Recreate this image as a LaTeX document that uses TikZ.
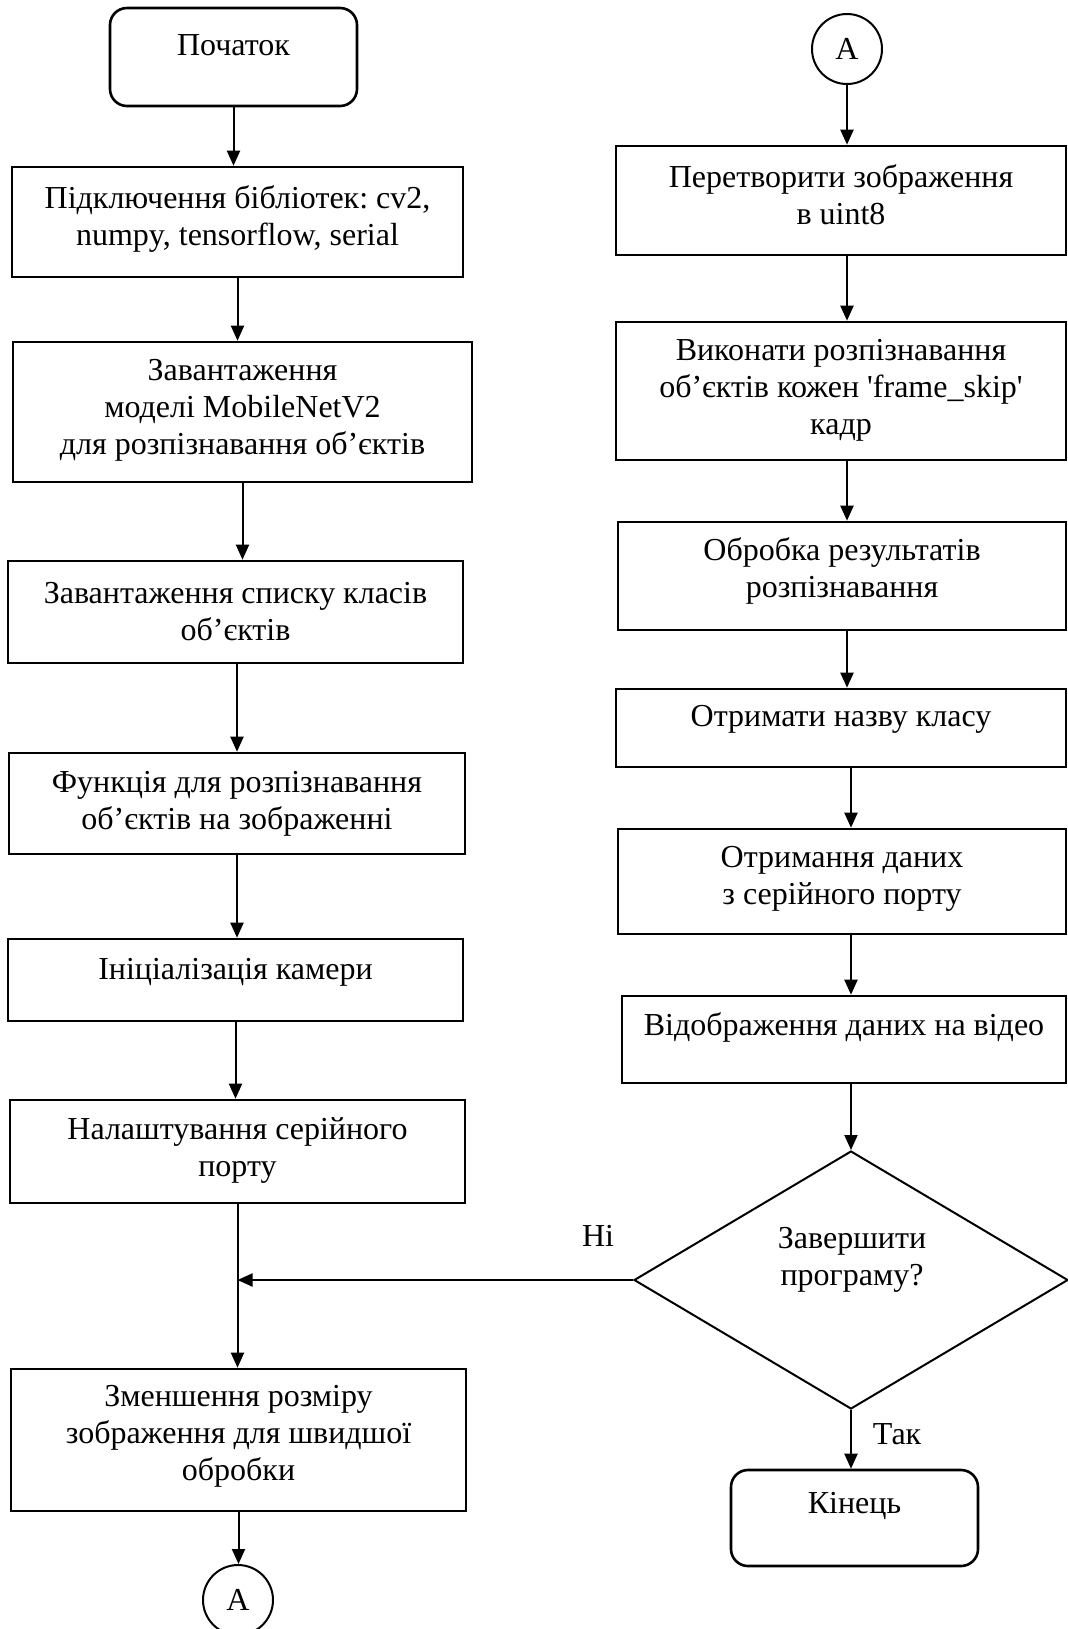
\documentclass[tikz,border=0pt]{standalone}
\usepackage{fontspec}
\setmainfont{Liberation Serif}
\usetikzlibrary{arrows.meta,shapes.geometric,calc}
\frenchspacing
\begin{document}
\begin{tikzpicture}[x=0.5pt,y=-0.5pt,
  box/.style={draw,line width=1.3pt,rectangle,inner sep=0pt},
  term/.style={draw,line width=1.3pt,rectangle,rounded corners=8.5pt,inner sep=0pt},
  conn/.style={draw,circle,line width=1pt,minimum size=35pt,inner sep=0pt,font=\fontsize{16}{18.5}\selectfont},
  dia/.style={draw,diamond,line width=1pt,inner sep=0pt,minimum width=217pt,minimum height=129pt},
  txt/.style={font=\fontsize{16}{18.5}\selectfont,align=center,inner sep=0pt},
  arr/.style={line width=1pt,-{Triangle[width=6.5pt,length=7.5pt]}},
  ln/.style={line width=1pt}]
\useasboundingbox (0,0) rectangle (1067,1629);
% left column
\node[term,minimum width=123.5pt,minimum height=49pt] (start) at (233.5,57) {};
\node[txt] (tstart) at (233.5,45) {Початок};
\node[box,minimum width=225.5pt,minimum height=55pt] (b1) at (237.5,222) {};
\node[txt] (t1) at (237.5,218.5) {Підключення бібліотек: cv2,\\numpy, tensorflow, serial};
\node[box,minimum width=229.5pt,minimum height=70pt] (b2) at (242.5,412) {};
\node[txt] (t2) at (242.5,410) {Завантаження\\моделі MobileNetV2\\для розпізнавання об’єктів};
\node[box,minimum width=227.5pt,minimum height=51pt] (b3) at (235.5,612) {};
\node[txt] (t3) at (235.5,611.5) {Завантаження списку класів\\об’єктів};
\node[box,minimum width=228pt,minimum height=50.5pt] (b4) at (237,803.5) {};
\node[txt] (t4) at (237,803.5) {Функція для розпізнавання\\об’єктів на зображенні};
\node[box,minimum width=227.5pt,minimum height=41pt] (b5) at (235.5,980) {};
\node[txt] (t5) at (235.5,972) {Ініціалізація камери};
\node[box,minimum width=227.5pt,minimum height=51.5pt] (b6) at (237.5,1151.5) {};
\node[txt] (t6) at (237.5,1150) {Налаштування серійного\\порту};
\node[box,minimum width=227.5pt,minimum height=71pt] (b7) at (238.5,1440) {};
\node[txt] (t7) at (238.5,1436.5) {Зменшення розміру\\зображення для швидшої\\обробки};
\node[conn] (cA1) at (238,1600) {A};
% right column
\node[conn] (cA2) at (847,49) {A};
\node[box,minimum width=225pt,minimum height=54.5pt] (r1) at (841,200.5) {};
\node[txt] (tr1) at (841,195) {Перетворити зображення\\в uint8};
\node[box,minimum width=225pt,minimum height=69pt] (r2) at (841,391) {};
\node[txt] (tr2) at (841,390) {Виконати розпізнавання\\об’єктів кожен \textquotesingle frame\_skip\textquotesingle\\кадр};
\node[box,minimum width=224pt,minimum height=54pt] (r3) at (842,576) {};
\node[txt] (tr3) at (842,570.5) {Обробка результатів\\розпізнавання};
\node[box,minimum width=225pt,minimum height=39pt] (r4) at (841,728) {};
\node[txt] (tr4) at (841,719) {Отримати назву класу};
\node[box,minimum width=224pt,minimum height=52.5pt] (r5) at (842,881.5) {};
\node[txt] (tr5) at (842,878.5) {Отримання даних\\з серійного порту};
\node[box,minimum width=222pt,minimum height=43.5pt] (r6) at (844,1039.5) {};
\node[txt] (tr6) at (844,1027) {Відображення даних на відео};
\node[dia] (dec) at (851,1280) {};
\node[txt] (tdec) at (852,1260) {Завершити\\програму?};
\node[term,minimum width=123.5pt,minimum height=48pt] (end) at (854.5,1518) {};
\node[txt] (tend) at (854.5,1506) {Кінець};
\node[txt] (no) at (598,1236) {Ні};
\node[txt] (yes) at (897,1434) {Так};
% connectors left
\draw[arr] (start.south) -- (start.south |- b1.north);
\draw[arr] (b1.south) -- (b1.south |- b2.north);
\draw[arr] (b2.south) -- (b2.south |- b3.north);
\draw[arr] (b3.south -| b4.north) -- (b4.north);
\draw[arr] (b4.south) -- (b4.south |- b5.north);
\draw[arr] (b5.south) -- (b5.south |- b6.north);
\draw[arr] (b6.south) -- (b6.south |- b7.north);
\draw[arr] (b7.south) -- (b7.south |- cA1.north);
% connectors right
\draw[arr] (cA2.south) -- (cA2.south |- r1.north);
\draw[arr] (r1.south -| cA2.south) -- (r2.north -| cA2.south);
\draw[arr] (r2.south -| cA2.south) -- (r3.north -| cA2.south);
\draw[arr] (r3.south -| cA2.south) -- (r4.north -| cA2.south);
\draw[arr] (r4.south -| dec.north) -- (r5.north -| dec.north);
\draw[arr] (r5.south -| dec.north) -- (r6.north -| dec.north);
\draw[arr] (r6.south -| dec.north) -- (dec.north);
\draw[arr] (dec.south) -- (dec.south |- end.north);
\draw[arr] (dec.west) -- (dec.west -| b6.south);
\end{tikzpicture}
\end{document}
